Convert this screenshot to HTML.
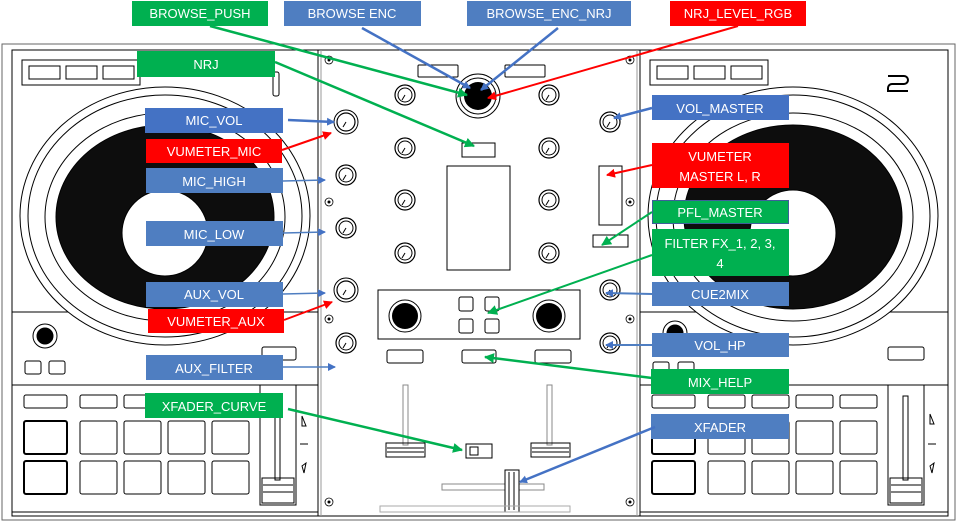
<!DOCTYPE html>
<html><head><meta charset="utf-8"><style>
html,body{margin:0;padding:0;background:#fff;width:958px;height:522px;overflow:hidden}
svg{display:block}
text{font-family:"Liberation Sans",sans-serif;font-size:13px;fill:#fff;text-anchor:middle}
</style></head><body>
<svg width="958" height="522" viewBox="0 0 958 522" xmlns="http://www.w3.org/2000/svg">
<defs>
<marker id="ab" markerWidth="8" markerHeight="8" refX="7" refY="4" orient="auto" markerUnits="userSpaceOnUse"><path d="M0,0 L8,4 L0,8 z" fill="#4472c4"/></marker>
<marker id="ag" markerWidth="10" markerHeight="10" refX="9" refY="5" orient="auto" markerUnits="userSpaceOnUse"><path d="M0,0 L10,5 L0,10 z" fill="#00b050"/></marker>
<marker id="ar" markerWidth="9" markerHeight="9" refX="8" refY="4.5" orient="auto" markerUnits="userSpaceOnUse"><path d="M0,0 L9,4.5 L0,9 z" fill="#ff0000"/></marker>
<g id="knob"><circle r="10" fill="#fff" stroke="#000" stroke-width="1.2"/><circle r="7" fill="none" stroke="#000" stroke-width="1"/><line x1="0" y1="0" x2="-3" y2="5" stroke="#000"/></g>
<g id="knob2"><circle r="12" fill="#fff" stroke="#000" stroke-width="1"/><circle r="9" fill="none" stroke="#000" stroke-width="1.2"/><line x1="0" y1="0" x2="-3" y2="5" stroke="#000"/></g>
<g id="screw"><circle r="4" fill="#fff" stroke="#000" stroke-width="0.8"/><circle r="1.5" fill="#000"/></g>
</defs>
<g fill="none" stroke="#000" stroke-width="1">
<rect x="2" y="44" width="953" height="476" stroke="#666"/>
<rect x="12" y="50" width="936" height="466"/>
<line x1="318" y1="50" x2="318" y2="516"/><line x1="321" y1="50" x2="321" y2="516" stroke="#999"/>
<line x1="640" y1="50" x2="640" y2="516"/><line x1="637" y1="50" x2="637" y2="516" stroke="#999"/>
<rect x="22" y="60" width="118" height="25"/>
<rect x="29" y="66" width="31" height="13"/><rect x="66" y="66" width="31" height="13"/><rect x="103" y="66" width="31" height="13"/>
<rect x="273" y="72" width="6" height="24" rx="2"/>
<line x1="12" y1="312" x2="318" y2="312"/>
<line x1="640" y1="312" x2="948" y2="312"/>
</g>
<!-- platters -->
<g stroke="#000">
<ellipse cx="165" cy="216" rx="145" ry="129" fill="#fff"/><ellipse cx="165" cy="216" rx="137" ry="121" fill="none"/><ellipse cx="165" cy="217" rx="120" ry="104" fill="none"/>
<ellipse cx="165" cy="217" rx="109" ry="92" fill="#0d0d0d"/><circle cx="165" cy="233" r="43" fill="#fff"/>
<ellipse cx="793" cy="216" rx="145" ry="129" fill="#fff"/><ellipse cx="793" cy="216" rx="137" ry="121" fill="none"/><ellipse cx="793" cy="217" rx="120" ry="104" fill="none"/>
<ellipse cx="793" cy="217" rx="109" ry="92" fill="#0d0d0d"/><circle cx="793" cy="233" r="43" fill="#fff"/>
</g>
<g fill="#fff" stroke="#000">
<rect x="12" y="385" width="306" height="127"/>
<rect x="640" y="385" width="308" height="127"/>
</g>
<g fill="none" stroke="#000" stroke-width="1">
<circle cx="45" cy="336" r="12" fill="#fff"/><circle cx="45" cy="336" r="8" fill="#000"/>
<rect x="25" y="361" width="16" height="13" rx="2" fill="#fff"/><rect x="49" y="361" width="16" height="13" rx="2" fill="#fff"/>
<rect x="262" y="347" width="34" height="13" rx="2" fill="#fff"/>
<rect x="24" y="395" width="43" height="13" rx="2"/><rect x="80" y="395" width="37" height="13" rx="2"/><rect x="124" y="395" width="37" height="13" rx="2"/>
<rect x="24" y="421" width="43" height="33" rx="2" stroke-width="2"/><rect x="80" y="421" width="37" height="33" rx="2"/><rect x="124" y="421" width="37" height="33" rx="2"/><rect x="168" y="421" width="37" height="33" rx="2"/><rect x="212" y="421" width="37" height="33" rx="2"/>
<rect x="24" y="461" width="43" height="33" rx="2" stroke-width="2"/><rect x="80" y="461" width="37" height="33" rx="2"/><rect x="124" y="461" width="37" height="33" rx="2"/><rect x="168" y="461" width="37" height="33" rx="2"/><rect x="212" y="461" width="37" height="33" rx="2"/>
<rect x="260" y="385" width="36" height="120"/><rect x="275" y="400" width="5" height="80"/><rect x="262" y="478" width="32" height="25"/>
<line x1="263" y1="485" x2="293" y2="485"/><line x1="263" y1="492" x2="293" y2="492"/>
<path d="M302,416 l4,10 l-4,0z M300,444 h8 M302,466 l4,-3 l-2,10z"/>
<rect x="650" y="60" width="118" height="25"/>
<rect x="657" y="66" width="31" height="13"/><rect x="694" y="66" width="31" height="13"/><rect x="731" y="66" width="31" height="13"/>
<path d="M888,76 h16 a4,4 0 0 1 0,8 h-12 a4,4 0 0 0 -4,4 v3 h20" stroke-width="2"/>
<circle cx="675" cy="333" r="12" fill="#fff"/><circle cx="675" cy="333" r="8" fill="#000"/>
<rect x="653" y="362" width="16" height="13" rx="2" fill="#fff"/><rect x="678" y="362" width="16" height="13" rx="2" fill="#fff"/>
<rect x="888" y="347" width="36" height="13" rx="2" fill="#fff"/>
<rect x="652" y="395" width="43" height="13" rx="2"/><rect x="708" y="395" width="37" height="13" rx="2"/><rect x="752" y="395" width="37" height="13" rx="2"/><rect x="796" y="395" width="37" height="13" rx="2"/><rect x="840" y="395" width="37" height="13" rx="2"/>
<rect x="652" y="421" width="43" height="33" rx="2" stroke-width="2"/><rect x="708" y="421" width="37" height="33" rx="2"/><rect x="752" y="421" width="37" height="33" rx="2"/><rect x="796" y="421" width="37" height="33" rx="2"/><rect x="840" y="421" width="37" height="33" rx="2"/>
<rect x="652" y="461" width="43" height="33" rx="2" stroke-width="2"/><rect x="708" y="461" width="37" height="33" rx="2"/><rect x="752" y="461" width="37" height="33" rx="2"/><rect x="796" y="461" width="37" height="33" rx="2"/><rect x="840" y="461" width="37" height="33" rx="2"/>
<rect x="888" y="385" width="36" height="120"/><rect x="903" y="396" width="5" height="84"/><rect x="890" y="478" width="32" height="25"/>
<line x1="891" y1="485" x2="921" y2="485"/><line x1="891" y1="492" x2="921" y2="492"/>
<path d="M930,414 l4,10 l-4,0z M928,444 h8 M930,466 l4,-3 l-2,10z"/>
<rect x="418" y="65" width="40" height="12" rx="1"/><rect x="505" y="65" width="40" height="12" rx="1"/>
<rect x="462" y="143" width="33" height="14"/>
<rect x="447" y="166" width="63" height="104"/>
<rect x="599" y="166" width="23" height="59"/>
<rect x="593" y="235" width="35" height="12"/>
<rect x="378" y="290" width="202" height="49"/>
<rect x="459" y="297" width="14" height="14" rx="2"/><rect x="485" y="297" width="14" height="14" rx="2"/>
<rect x="459" y="319" width="14" height="14" rx="2"/><rect x="485" y="319" width="14" height="14" rx="2"/>
<rect x="387" y="350" width="36" height="13" rx="2"/><rect x="462" y="350" width="34" height="13" rx="2"/><rect x="535" y="350" width="36" height="13" rx="2"/>
<rect x="403" y="385" width="5" height="60" stroke="#888"/><rect x="547" y="385" width="5" height="60" stroke="#888"/>
<rect x="386" y="443" width="39" height="14"/><line x1="387" y1="448" x2="424" y2="448"/><line x1="387" y1="452" x2="424" y2="452"/>
<rect x="531" y="443" width="39" height="14"/><line x1="532" y1="448" x2="569" y2="448"/><line x1="532" y1="452" x2="569" y2="452"/>
<rect x="466" y="444" width="26" height="14"/><rect x="470" y="447" width="8" height="8"/>
<rect x="442" y="484" width="102" height="6" stroke="#888"/>
<rect x="505" y="470" width="14" height="42" fill="#fff"/><line x1="509" y1="472" x2="509" y2="510"/><line x1="514" y1="472" x2="514" y2="510"/>
<rect x="380" y="506" width="190" height="6" stroke="#aaa"/>
</g>
<circle cx="478" cy="96" r="22" fill="#fff" stroke="#000"/><circle cx="478" cy="96" r="18" fill="#fff" stroke="#000"/><circle cx="478" cy="96" r="14" fill="#000"/>
<g>
<use href="#knob2" x="346" y="122"/><use href="#knob" x="346" y="175"/><use href="#knob" x="346" y="228"/><use href="#knob2" x="346" y="290"/><use href="#knob" x="346" y="343"/>
<use href="#knob" x="405" y="95"/><use href="#knob" x="405" y="148"/><use href="#knob" x="405" y="200"/><use href="#knob" x="405" y="253"/>
<use href="#knob" x="549" y="95"/><use href="#knob" x="549" y="148"/><use href="#knob" x="549" y="200"/><use href="#knob" x="549" y="253"/>
<use href="#knob" x="610" y="122"/><use href="#knob" x="610" y="290"/><use href="#knob" x="610" y="343"/>
</g>
<circle cx="405" cy="316" r="16" fill="#fff" stroke="#000"/><circle cx="405" cy="316" r="13" fill="#000"/>
<circle cx="549" cy="316" r="16" fill="#fff" stroke="#000"/><circle cx="549" cy="316" r="13" fill="#000"/>
<use href="#screw" x="329" y="60"/><use href="#screw" x="329" y="202"/><use href="#screw" x="329" y="319"/><use href="#screw" x="329" y="502"/>
<use href="#screw" x="630" y="60"/><use href="#screw" x="630" y="202"/><use href="#screw" x="630" y="319"/><use href="#screw" x="630" y="502"/>
<g>
<rect x="132" y="1" width="136" height="25" fill="#00b050"/><text x="200" y="18">BROWSE_PUSH</text>
<rect x="284" y="1" width="137" height="25" fill="#4f7ec1"/><text x="352" y="18">BROWSE ENC</text>
<rect x="467" y="1" width="164" height="25" fill="#4f7ec1"/><text x="549" y="18">BROWSE_ENC_NRJ</text>
<rect x="670" y="1" width="136" height="25" fill="#ff0000"/><text x="738" y="18">NRJ_LEVEL_RGB</text>
<rect x="137" y="51" width="138" height="26" fill="#00b050"/><text x="206" y="69">NRJ</text>
<rect x="145" y="108" width="138" height="25" fill="#4472c4"/><text x="214" y="125">MIC_VOL</text>
<rect x="146" y="139" width="136" height="24" fill="#ff0000"/><text x="214" y="156">VUMETER_MIC</text>
<rect x="146" y="168" width="137" height="25" fill="#4f7ec1"/><text x="214" y="186">MIC_HIGH</text>
<rect x="146" y="221" width="137" height="25" fill="#4f7ec1"/><text x="214" y="239">MIC_LOW</text>
<rect x="146" y="282" width="137" height="25" fill="#4f7ec1"/><text x="214" y="299">AUX_VOL</text>
<rect x="148" y="309" width="136" height="24" fill="#ff0000"/><text x="216" y="326">VUMETER_AUX</text>
<rect x="146" y="355" width="137" height="25" fill="#4f7ec1"/><text x="214" y="373">AUX_FILTER</text>
<rect x="145" y="393" width="138" height="25" fill="#00b050"/><text x="214" y="411">XFADER_CURVE</text>
<rect x="652" y="95" width="137" height="25" fill="#4472c4"/><text x="720" y="113">VOL_MASTER</text>
<rect x="652" y="143" width="137" height="45" fill="#ff0000"/><text x="720" y="161">VUMETER</text><text x="720" y="181">MASTER L, R</text>
<rect x="652.5" y="200.5" width="136" height="23" fill="#00b050" stroke="#3e5f9a"/><text x="720" y="217">PFL_MASTER</text>
<rect x="652" y="229" width="137" height="47" fill="#00b050"/><text x="720" y="248">FILTER FX_1, 2, 3,</text><text x="720" y="268">4</text>
<rect x="652" y="282" width="137" height="24" fill="#4f7ec1"/><text x="720" y="299">CUE2MIX</text>
<rect x="652" y="333" width="137" height="24" fill="#4f7ec1"/><text x="720" y="350">VOL_HP</text>
<rect x="651" y="369" width="138" height="25" fill="#00b050"/><text x="720" y="387">MIX_HELP</text>
<rect x="651" y="414" width="138" height="25" fill="#4f7ec1"/><text x="720" y="432">XFADER</text>
</g>
<g stroke-width="2.5" fill="none">
<line x1="210" y1="26" x2="467" y2="95" stroke="#00b050" marker-end="url(#ag)"/>
<line x1="362" y1="28" x2="470" y2="88" stroke="#4472c4" marker-end="url(#ab)"/>
<line x1="558" y1="28" x2="481" y2="90" stroke="#4472c4" marker-end="url(#ab)"/>
<line x1="738" y1="26" x2="488" y2="98" stroke="#ff0000" stroke-width="2" marker-end="url(#ar)"/>
<line x1="275" y1="62" x2="474" y2="146" stroke="#00b050" marker-end="url(#ag)"/>
<line x1="288" y1="120" x2="334" y2="122" stroke="#4472c4" marker-end="url(#ab)"/>
<line x1="282" y1="150" x2="331" y2="133" stroke="#ff0000" stroke-width="2" marker-end="url(#ar)"/>
<line x1="283" y1="181" x2="325" y2="180" stroke="#4f7ec1" stroke-width="1.5" marker-end="url(#ab)"/>
<line x1="283" y1="233" x2="325" y2="232" stroke="#4f7ec1" stroke-width="1.5" marker-end="url(#ab)"/>
<line x1="283" y1="294" x2="325" y2="293" stroke="#4f7ec1" stroke-width="1.5" marker-end="url(#ab)"/>
<line x1="284" y1="320" x2="332" y2="302" stroke="#ff0000" stroke-width="2" marker-end="url(#ar)"/>
<line x1="283" y1="367" x2="335" y2="367" stroke="#4f7ec1" stroke-width="1.5" marker-end="url(#ab)"/>
<line x1="288" y1="409" x2="462" y2="450" stroke="#00b050" marker-end="url(#ag)"/>
<line x1="652" y1="108" x2="614" y2="118" stroke="#4472c4" marker-end="url(#ab)"/>
<line x1="652" y1="165" x2="607" y2="175" stroke="#ff0000" stroke-width="2" marker-end="url(#ar)"/>
<line x1="652" y1="212" x2="602" y2="245" stroke="#00b050" stroke-width="2" marker-end="url(#ag)"/>
<line x1="652" y1="255" x2="488" y2="313" stroke="#00b050" stroke-width="2" marker-end="url(#ag)"/>
<line x1="652" y1="294" x2="606" y2="293" stroke="#4f7ec1" stroke-width="2" marker-end="url(#ab)"/>
<line x1="652" y1="345" x2="606" y2="345" stroke="#4f7ec1" stroke-width="2" marker-end="url(#ab)"/>
<line x1="652" y1="378" x2="485" y2="357" stroke="#00b050" marker-end="url(#ag)"/>
<line x1="655" y1="427" x2="520" y2="482" stroke="#4472c4" marker-end="url(#ab)"/>
</g>
</svg>
</body></html>
